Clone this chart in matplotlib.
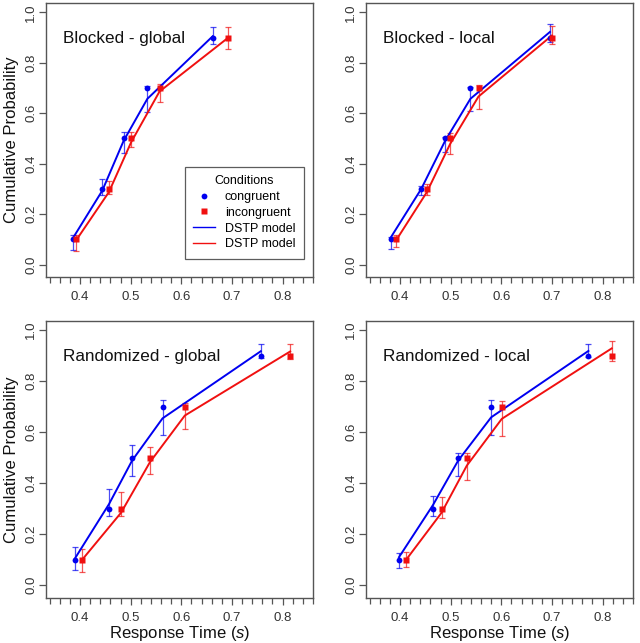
import matplotlib
matplotlib.use("Agg")
import matplotlib.pyplot as plt
import numpy as np
from matplotlib.lines import Line2D

plt.rcParams['font.family'] = ['Liberation Sans', 'DejaVu Sans']
plt.rcParams['mathtext.fontset'] = 'custom'
plt.rcParams['mathtext.it'] = 'Liberation Sans:italic'

# quantile probabilities
probs = [0.1, 0.3, 0.5, 0.7, 0.9]

titles = ["Blocked - global", "Blocked - local",
          "Randomized - global", "Randomized - local"]

# observed quantile RTs (s)
con_rt = [[0.387, 0.444, 0.486, 0.533, 0.662],
          [0.382, 0.442, 0.489, 0.539, 0.696],
          [0.390, 0.457, 0.503, 0.563, 0.757],
          [0.398, 0.465, 0.515, 0.580, 0.772]]
inc_rt = [[0.392, 0.457, 0.501, 0.557, 0.693],
          [0.392, 0.453, 0.499, 0.555, 0.700],
          [0.403, 0.481, 0.538, 0.607, 0.815],
          [0.411, 0.482, 0.532, 0.601, 0.818]]

# error bar limits
con_lo = [[0.058, 0.275, 0.443, 0.604, 0.875],
          [0.060, 0.275, 0.445, 0.610, 0.881],
          [0.059, 0.271, 0.429, 0.588, 0.889],
          [0.069, 0.271, 0.429, 0.590, 0.894]]
con_hi = [[0.118, 0.340, 0.527, 0.709, 0.943],
          [0.110, 0.310, 0.505, 0.705, 0.954],
          [0.149, 0.379, 0.548, 0.724, 0.947],
          [0.126, 0.348, 0.518, 0.724, 0.947]]
inc_lo = [[0.055, 0.280, 0.465, 0.646, 0.855],
          [0.070, 0.275, 0.440, 0.615, 0.874],
          [0.050, 0.271, 0.436, 0.614, 0.885],
          [0.070, 0.265, 0.413, 0.584, 0.878]]
inc_hi = [[0.118, 0.330, 0.524, 0.716, 0.943],
          [0.118, 0.320, 0.520, 0.710, 0.946],
          [0.141, 0.366, 0.542, 0.713, 0.945],
          [0.130, 0.345, 0.518, 0.720, 0.958]]

# DSTP model predictions
con_model = [[0.108, 0.293, 0.490, 0.657, 0.905],
             [0.108, 0.300, 0.490, 0.657, 0.922],
             [0.105, 0.317, 0.489, 0.654, 0.917],
             [0.110, 0.314, 0.489, 0.658, 0.918]]
inc_model = [[0.095, 0.287, 0.485, 0.686, 0.900],
             [0.095, 0.287, 0.478, 0.666, 0.908],
             [0.097, 0.284, 0.482, 0.665, 0.916],
             [0.097, 0.284, 0.469, 0.652, 0.928]]

blue = "#0000f0"
red = "#f01010"
grey = "#555555"

fig = plt.figure(figsize=(6.4, 6.43), dpi=100)
boxes = [[0.072, 0.569, 0.417, 0.426],
         [0.572, 0.569, 0.417, 0.426],
         [0.072, 0.070, 0.417, 0.431],
         [0.572, 0.070, 0.417, 0.431]]

for i in range(4):
    ax = fig.add_axes(boxes[i])
    p = np.array(probs)
    ax.errorbar(con_rt[i], p, yerr=[p - np.array(con_lo[i]), np.array(con_hi[i]) - p],
                fmt='none', ecolor=blue, elinewidth=0.9, capsize=2, capthick=0.9, alpha=0.7)
    ax.errorbar(inc_rt[i], p, yerr=[p - np.array(inc_lo[i]), np.array(inc_hi[i]) - p],
                fmt='none', ecolor=red, elinewidth=0.9, capsize=2, capthick=0.9, alpha=0.7)
    ax.plot(con_rt[i], con_model[i], color=blue, lw=1.4)
    ax.plot(inc_rt[i], inc_model[i], color=red, lw=1.4)
    ax.plot(con_rt[i], probs, 'o', color=blue, ms=4.2, mec='none')
    ax.plot(inc_rt[i], probs, 's', color=red, ms=4.2, mec='none')

    ax.set_xlim(0.333, 0.86)
    ax.set_ylim(-0.05, 1.036)
    ax.set_xticks([0.4, 0.5, 0.6, 0.7, 0.8])
    ax.set_xticklabels(["0.4", "0.5", "0.6", "0.7", "0.8"])
    ax.set_xticks(np.arange(0.34, 0.861, 0.02), minor=True)
    ax.set_yticks([0.0, 0.2, 0.4, 0.6, 0.8, 1.0])
    ax.set_yticklabels(["0.0", "0.2", "0.4", "0.6", "0.8", "1.0"], rotation=90, va='center')
    ax.tick_params(axis='both', which='major', length=5, width=0.9, colors=grey,
                   labelsize=9.5, labelcolor="#333333")
    ax.tick_params(axis='x', which='minor', length=4, width=0.9, color=grey)
    ax.tick_params(axis='x', pad=5)
    ax.tick_params(axis='y', pad=1.5)
    for s in ax.spines.values():
        s.set_color(grey)
        s.set_linewidth(1.0)
    ax.text(0.065, 0.87, titles[i], transform=ax.transAxes, fontsize=12.3,
            va='center', ha='left', color="#111111")
    if i % 2 == 0:
        ax.set_ylabel("Cumulative Probability", fontsize=12, labelpad=4, color="#111111")
    if i >= 2:
        ax.set_xlabel(r"Response Time ($\mathit{s}$)", fontsize=12, labelpad=0, color="#111111")

    if i == 0:
        handles = [Line2D([], [], ls='none', marker='o', color=blue, ms=4.2, mec='none'),
                   Line2D([], [], ls='none', marker='s', color=red, ms=4.2, mec='none'),
                   Line2D([], [], color=blue, lw=1.0),
                   Line2D([], [], color=red, lw=1.0)]
        leg = ax.legend(handles, ["congruent", "incongruent", "DSTP model", "DSTP model"],
                        title="Conditions", loc='lower right',
                        bbox_to_anchor=(0.966, 0.066), borderaxespad=0,
                        fontsize=9, title_fontsize=9,
                        frameon=True, fancybox=False, edgecolor="#333333",
                        handlelength=1.7, labelspacing=0.3, borderpad=0.7,
                        handletextpad=0.8)
        leg.get_frame().set_linewidth(0.9)

fig.savefig("out.png", dpi=100)
